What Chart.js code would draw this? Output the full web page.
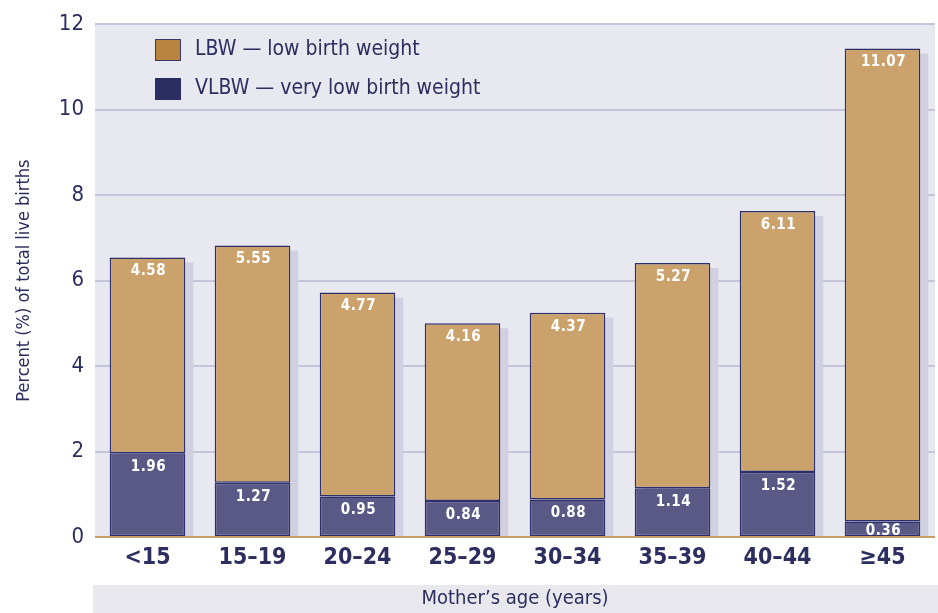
<!DOCTYPE html>
<html>
<head>
<meta charset="utf-8">
<script src="https://cdn.jsdelivr.net/npm/chart.js@4.4.1/dist/chart.umd.min.js"></script>
<style>
  html, body { margin: 0; padding: 0; background: #fff; }
  #wrap { width: 938px; height: 613px; }
</style>
</head>
<body>
<div id="wrap"><canvas id="chart"></canvas></div>
<script>
// data
const ageGroups = ['<15', '15–19', '20–24', '25–29', '30–34', '35–39', '40–44', '≥45'];
const vlbwValues = [1.96, 1.27, 0.95, 0.84, 0.88, 1.14, 1.52, 0.36];
const lbwValues = [4.58, 5.55, 4.77, 4.16, 4.37, 5.27, 6.11, 11.07];
const yMax = 12;
const yStep = 2;
const legendLabels = ['LBW — low birth weight', 'VLBW — very low birth weight'];

const FONT = "'DejaVu Sans Condensed', 'Liberation Sans Narrow', sans-serif";
const NAVY = '#2b2e5e';
const LBW_COLOR = '#cba26c';
const VLBW_COLOR = '#5a5986';
const BAR_BORDER = '#2d2f6a';

// plot background + band behind the x title
const backgroundPlugin = {
    id: 'bg',
    beforeDraw(chart) {
        const { ctx, chartArea } = chart;
        ctx.save();
        ctx.fillStyle = '#e8e8f0';
        ctx.fillRect(chartArea.left, chartArea.top, chartArea.right - chartArea.left, chartArea.bottom - chartArea.top);
        ctx.fillStyle = '#e8e8ee';
        ctx.fillRect(chartArea.left - 2, chart.height - 28, chart.width - chartArea.left + 2, 28);
        ctx.restore();
    }
};

// drop shadow behind each stacked bar
const shadowPlugin = {
    id: 'shadow',
    beforeDatasetsDraw(chart) {
        const ctx = chart.ctx;
        const bottomBars = chart.getDatasetMeta(0).data;
        const topBars = chart.getDatasetMeta(1).data;
        ctx.save();
        ctx.fillStyle = '#d0d0e0';
        topBars.forEach((bar, i) => {
            const base = bottomBars[i].base;
            const left = bar.x - bar.width / 2 + 8;
            const top = bar.y + 5;
            ctx.fillRect(left, top, bar.width, base - top);
        });
        ctx.restore();
    }
};

// white value labels near the top of each segment
const valueLabelPlugin = {
    id: 'valueLabels',
    afterDatasetsDraw(chart) {
        const ctx = chart.ctx;
        ctx.save();
        ctx.fillStyle = '#ffffff';
        ctx.font = 'bold 15px ' + FONT;
        ctx.letterSpacing = '0.5px';
        ctx.textAlign = 'center';
        ctx.textBaseline = 'middle';
        chart.data.datasets.forEach((ds, di) => {
            chart.getDatasetMeta(di).data.forEach((bar, i) => {
                const h = bar.base - bar.y;
                const y = bar.y + Math.min(14, h / 2 + 2);
                ctx.fillText(ds.data[i].toFixed(2), bar.x + 1, y);
            });
        });
        ctx.restore();
    }
};

// legend drawn inside the plot, upper left
const legendPlugin = {
    id: 'insideLegend',
    afterDraw(chart) {
        const ctx = chart.ctx;
        const swatches = [
            { fill: '#b8843f', stroke: '#3a3a6a' },
            { fill: '#2b2d63', stroke: '#2b2d63' }
        ];
        ctx.save();
        ctx.font = '21px ' + FONT;
        ctx.textBaseline = 'middle';
        ctx.textAlign = 'left';
        legendLabels.forEach((label, i) => {
            const y = 39 + i * 39;
            ctx.fillStyle = swatches[i].fill;
            ctx.fillRect(155, y, 26, 22);
            ctx.strokeStyle = swatches[i].stroke;
            ctx.lineWidth = 1;
            ctx.strokeRect(155.5, y + 0.5, 25, 21);
            ctx.fillStyle = NAVY;
            ctx.fillText(label, 195, y + 11);
        });
        ctx.restore();
    }
};

new Chart(document.getElementById('chart'), {
    type: 'bar',
    data: {
        labels: ageGroups,
        datasets: [
            {
                label: 'VLBW',
                data: vlbwValues,
                backgroundColor: VLBW_COLOR,
                borderColor: BAR_BORDER,
                borderWidth: 1.5,
                borderSkipped: false,
                categoryPercentage: 0.72,
                barPercentage: 1
            },
            {
                label: 'LBW',
                data: lbwValues,
                backgroundColor: LBW_COLOR,
                borderColor: BAR_BORDER,
                borderWidth: 1.5,
                borderSkipped: false,
                categoryPercentage: 0.72,
                barPercentage: 1
            }
        ]
    },
    options: {
        responsive: true,
        maintainAspectRatio: false,
        animation: false,
        layout: { padding: { top: 21, right: 3, left: 0, bottom: 0 } },
        plugins: {
            legend: { display: false },
            tooltip: { enabled: false }
        },
        scales: {
            x: {
                stacked: true,
                grid: { display: false, drawTicks: false },
                border: { display: false },
                ticks: {
                    color: NAVY,
                    font: { family: FONT, size: 23, weight: 'bold' },
                    padding: 7
                },
                title: {
                    display: true,
                    text: 'Mother’s age (years)',
                    color: NAVY,
                    font: { family: FONT, size: 20 },
                    padding: { top: 0, bottom: 2 }
                },
                afterFit(scale) { scale.height = 76; }
            },
            y: {
                stacked: true,
                min: 0,
                max: yMax,
                grid: {
                    drawTicks: false,
                    lineWidth: 2,
                    color: ctx => ctx.tick.value === 0 ? '#c9a06a' : '#c4c4da'
                },
                border: { display: false },
                ticks: {
                    stepSize: yStep,
                    color: NAVY,
                    font: { family: FONT, size: 22 },
                    padding: 11
                },
                title: {
                    display: true,
                    text: 'Percent (%) of total live births',
                    color: NAVY,
                    font: { family: FONT, size: 18 },
                    padding: { top: 14, bottom: 0 }
                },
                afterFit(scale) { scale.width = 95; }
            }
        }
    },
    plugins: [backgroundPlugin, shadowPlugin, valueLabelPlugin, legendPlugin]
});
</script>
</body>
</html>
